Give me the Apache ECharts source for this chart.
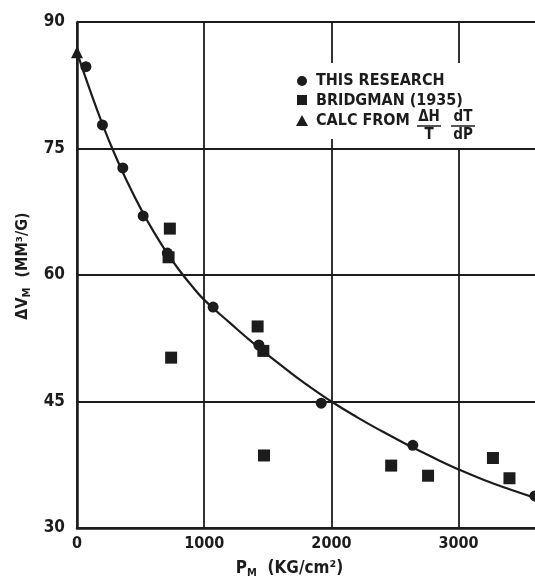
<!DOCTYPE html>
<html>
<head>
<meta charset="utf-8">
<script src="https://cdn.jsdelivr.net/npm/echarts@6/dist/echarts.min.js"></script>
<style>
html, body { margin: 0; padding: 0; background: #fff; }
#main { width: 535px; height: 580px; }
</style>
</head>
<body>
<div id="main"></div>
<script>
// values
var thisP = [70, 200, 360, 520, 710, 1070, 1430, 1920, 2640, 3600];
var thisV = [84.7, 77.8, 72.7, 67.0, 62.6, 56.2, 51.7, 44.8, 39.8, 33.8];

var bridgP = [730, 720, 740, 1420, 1465, 1470, 2470, 2760, 3270, 3400];
var bridgV = [65.5, 62.1, 50.2, 53.9, 51.0, 38.6, 37.4, 36.2, 38.3, 35.9];

var calcP = [0];
var calcV = [86.4];

// the hand drawn curve
var curveP = [0, 100, 200, 300, 400, 500, 600, 700, 800, 900, 1000, 1200, 1400, 1600, 1800, 2000, 2200, 2400, 2600, 2800, 3000, 3200, 3400, 3640];
var curveV = [86.4, 82.0, 77.9, 74.2, 70.9, 67.9, 65.2, 62.8, 60.65, 58.75, 57.05, 54.35, 51.75, 49.35, 47.05, 45.0, 43.15, 41.45, 39.85, 38.35, 36.95, 35.7, 34.6, 33.4];

var xTicks = [0, 1000, 2000, 3000];
var yTicks = [30, 45, 60, 75, 90];

var ink = '#1c1c1c';
var font = 'DejaVu Sans Condensed, Liberation Sans, sans-serif';

function pairs(xs, ys) {
	return xs.map(function (x, i) { return [x, ys[i]]; });
}

var chart = echarts.init(document.getElementById('main'));

var subStyle = { fontSize: 11, fontWeight: 'bold', verticalAlign: 'bottom', padding: [9, 0, 0, 0], color: ink, fontFamily: font };

var option = {
	backgroundColor: '#fff',
	animation: false,
	grid: { left: 77, right: -5, top: 22, bottom: 52, outerBoundsMode: 'none', containLabel: false },
	xAxis: {
		type: 'value',
		min: 0,
		max: 3640,
		interval: 1000,
		axisLine: { show: true, onZero: false, lineStyle: { color: ink, width: 2.5 } },
		axisTick: { show: false },
		splitLine: { show: true, lineStyle: { color: ink, width: 1.8 } },
		axisLabel: {
			margin: 8,
			color: ink,
			fontFamily: font,
			fontWeight: 'bold',
			fontSize: 16,
			formatter: function (v) { return xTicks.indexOf(v) >= 0 ? String(v) : ''; }
		},
		name: 'P{sub|M}  (KG/cm²)',
		nameLocation: 'middle',
		nameGap: 31,
		nameTextStyle: { color: ink, fontFamily: font, fontWeight: 'bold', fontSize: 17, padding: [0, 38, 0, 0], rich: { sub: subStyle } }
	},
	yAxis: {
		type: 'value',
		min: 30,
		max: 90,
		interval: 15,
		axisLine: { show: true, lineStyle: { color: ink, width: 2.5 } },
		axisTick: { show: false },
		splitLine: { show: true, lineStyle: { color: ink, width: 1.8 } },
		axisLabel: {
			margin: 12,
			color: ink,
			fontFamily: font,
			fontWeight: 'bold',
			fontSize: 17,
			formatter: function (v) { return yTicks.indexOf(v) >= 0 ? String(v) : ''; }
		},
		name: 'ΔV{sub|M}  (MM³/G)',
		nameLocation: 'middle',
		nameGap: 42,
		nameTextStyle: { color: ink, fontFamily: font, fontWeight: 'bold', fontSize: 16, padding: [0, 0, 0, 18], rich: { sub: subStyle } }
	},
	series: [
		{
			type: 'line',
			data: pairs(curveP, curveV),
			smooth: true,
			symbol: 'none',
			lineStyle: { color: ink, width: 2.2 },
			z: 3
		},
		{
			type: 'scatter',
			data: pairs(thisP, thisV),
			symbol: 'circle',
			symbolSize: 11,
			itemStyle: { color: ink, opacity: 1 },
			z: 4
		},
		{
			type: 'scatter',
			data: pairs(bridgP, bridgV),
			symbol: 'rect',
			symbolSize: 12,
			itemStyle: { color: ink, opacity: 1 },
			z: 4
		},
		{
			type: 'scatter',
			data: pairs(calcP, calcV),
			symbol: 'triangle',
			symbolSize: 12,
			itemStyle: { color: ink, opacity: 1 },
			z: 4
		}
	],
	// legend box, the fraction is not something the legend component can do
	graphic: [
		{ type: 'rect', z: 10, shape: { x: 292, y: 63, width: 192, height: 76 }, style: { fill: '#fff' } },
		{ type: 'rect', z: 10, shape: { x: 414, y: 136, width: 70, height: 12 }, style: { fill: '#fff' } },
		{ type: 'circle', z: 11, shape: { cx: 302, cy: 81, r: 5 }, style: { fill: ink } },
		{ type: 'rect', z: 11, shape: { x: 297, y: 95, width: 10, height: 10 }, style: { fill: ink } },
		{ type: 'polygon', z: 11, shape: { points: [[302, 115], [308, 126], [296, 126]] }, style: { fill: ink } },
		{ type: 'text', z: 11, x: 316, y: 81, style: { text: 'THIS RESEARCH', fill: ink, font: 'bold 16px ' + font, verticalAlign: 'middle' } },
		{ type: 'text', z: 11, x: 316, y: 101, style: { text: 'BRIDGMAN (1935)', fill: ink, font: 'bold 16px ' + font, verticalAlign: 'middle' } },
		{ type: 'text', z: 11, x: 316, y: 121, style: { text: 'CALC FROM', fill: ink, font: 'bold 16px ' + font, verticalAlign: 'middle' } },
		{ type: 'text', z: 11, x: 429, y: 117, style: { text: 'ΔH', fill: ink, font: 'bold 15px ' + font, align: 'center', verticalAlign: 'middle' } },
		{ type: 'line', z: 11, shape: { x1: 417, y1: 126, x2: 441, y2: 126 }, style: { stroke: ink, lineWidth: 1.5 } },
		{ type: 'text', z: 11, x: 429, y: 135, style: { text: 'T', fill: ink, font: 'bold 15px ' + font, align: 'center', verticalAlign: 'middle' } },
		{ type: 'text', z: 11, x: 463, y: 117, style: { text: 'dT', fill: ink, font: 'bold 15px ' + font, align: 'center', verticalAlign: 'middle' } },
		{ type: 'line', z: 11, shape: { x1: 451, y1: 126, x2: 475, y2: 126 }, style: { stroke: ink, lineWidth: 1.5 } },
		{ type: 'text', z: 11, x: 463, y: 135, style: { text: 'dP', fill: ink, font: 'bold 15px ' + font, align: 'center', verticalAlign: 'middle' } }
	]
};

chart.setOption(option);
</script>
</body>
</html>
